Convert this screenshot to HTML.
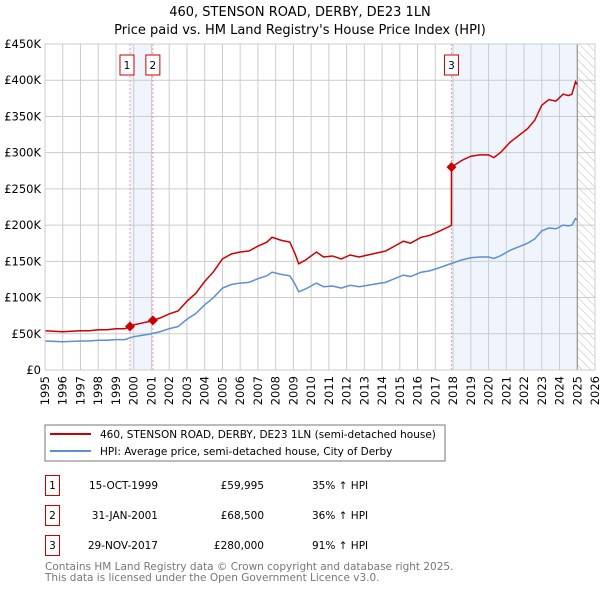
<!DOCTYPE html>
<html><head><meta charset="utf-8"><style>
body{margin:0;background:#fff;font-family:"DejaVu Sans","Liberation Sans",sans-serif;}
svg text{font-family:"DejaVu Sans","Liberation Sans",sans-serif;}
</style></head><body>
<svg id="chart" width="600" height="590" viewBox="0 0 600 590" xmlns="http://www.w3.org/2000/svg">
<defs><pattern id="hatch" width="6" height="6" patternUnits="userSpaceOnUse" patternTransform="rotate(-45)"><line x1="0" y1="0" x2="0" y2="6" stroke="#bbb" stroke-width="1"/></pattern></defs>
<text x="300" y="16" text-anchor="middle" font-size="13">460, STENSON ROAD, DERBY, DE23 1LN</text>
<text x="300" y="34" text-anchor="middle" font-size="13">Price paid vs. HM Land Registry's House Price Index (HPI)</text>
<g id="plot"></g>
<g>
<rect x="45" y="425" width="400" height="36" fill="#fff" stroke="#777"/>
<line x1="50" y1="434" x2="91" y2="434" stroke="#cc0000" stroke-width="2"/>
<text x="100" y="438" font-size="10.5">460, STENSON ROAD, DERBY, DE23 1LN (semi-detached house)</text>
<line x1="50" y1="451" x2="91" y2="451" stroke="#5b8fd4" stroke-width="2"/>
<text x="100" y="455" font-size="10.5">HPI: Average price, semi-detached house, City of Derby</text>
</g>
<g font-size="10.5">
<rect x="45.5" y="475.5" width="14" height="20" fill="#fff" stroke="#cc0000"/><text x="52.5" y="489" text-anchor="middle">1</text>
<text x="158" y="489" text-anchor="end">15-OCT-1999</text><text x="264" y="489" text-anchor="end">£59,995</text><text x="312" y="489">35% ↑ HPI</text>
<rect x="45.5" y="505.5" width="14" height="20" fill="#fff" stroke="#cc0000"/><text x="52.5" y="519" text-anchor="middle">2</text>
<text x="158" y="519" text-anchor="end">31-JAN-2001</text><text x="264" y="519" text-anchor="end">£68,500</text><text x="312" y="519">36% ↑ HPI</text>
<rect x="45.5" y="535.5" width="14" height="20" fill="#fff" stroke="#cc0000"/><text x="52.5" y="549" text-anchor="middle">3</text>
<text x="158" y="549" text-anchor="end">29-NOV-2017</text><text x="264" y="549" text-anchor="end">£280,000</text><text x="312" y="549">91% ↑ HPI</text>
</g>
<text x="45" y="570" font-size="10.5" fill="#777">Contains HM Land Registry data © Crown copyright and database right 2025.</text>
<text x="45" y="581" font-size="10.5" fill="#777">This data is licensed under the Open Government Licence v3.0.</text>
</svg>
<script>
const yTicks=[0,50,100,150,200,250,300,350,400,450];
const yTickLabels=["£0","£50K","£100K","£150K","£200K","£250K","£300K","£350K","£400K","£450K"];
const xYears=[1995,1996,1997,1998,1999,2000,2001,2002,2003,2004,2005,2006,2007,2008,2009,2010,2011,2012,2013,2014,2015,2016,2017,2018,2019,2020,2021,2022,2023,2024,2025,2026];
const hpiT=[1995,1995.5,1996,1996.5,1997,1997.5,1998,1998.5,1999,1999.5,2000,2000.5,2001,2001.5,2002,2002.5,2003,2003.5,2004,2004.5,2005,2005.5,2006,2006.5,2007,2007.5,2007.8,2008.3,2008.8,2009.1,2009.3,2009.7,2010.3,2010.7,2011.2,2011.7,2012.2,2012.7,2013.2,2013.7,2014.2,2014.7,2015.2,2015.6,2016.2,2016.7,2017.2,2017.9,2018.5,2019,2019.5,2020,2020.3,2020.7,2021.2,2021.7,2022.2,2022.6,2023,2023.4,2023.8,2024.2,2024.5,2024.7,2024.9,2025];
const hpiV=[40,39.5,39,39.5,40,40,41,41,42,42,46,48,50,53,57,60,70,78,90,100,113,118,120,121,126,130,135,132,130,118,108,112,120,115,116,113,117,115,117,119,121,126,131,129,135,137,141,147,152,155,156,156,154,158,165,170,175,181,192,196,195,200,199,200,209,207];
const saleT=[1999.79,2001.08,2017.91];
const saleV=[59.995,68.5,280];
const saleLabels=["1","2","3"];
const dataEnd=2025.0;

const X0=45,X1=595,Y0=370,Y1=44;
const xs=t=>X0+(t-1995)*(X1-X0)/31;
const ys=v=>Y0-v*(Y0-Y1)/450;
const NS="http://www.w3.org/2000/svg";
const g=document.getElementById('plot');
function mk(tag,attrs,parent){const e=document.createElementNS(NS,tag);for(const k in attrs)e.setAttribute(k,attrs[k]);(parent||g).appendChild(e);return e;}
function hpiAt(t){for(let i=1;i<hpiT.length;i++){if(t<=hpiT[i]){const f=(t-hpiT[i-1])/(hpiT[i]-hpiT[i-1]);return hpiV[i-1]+f*(hpiV[i]-hpiV[i-1]);}}return hpiV[hpiV.length-1];}

let sh=mk('rect',{x:xs(saleT[0]),y:Y1,width:xs(saleT[1])-xs(saleT[0]),height:Y0-Y1,fill:'#f0f4fd'});


let sh2=mk('rect',{x:xs(saleT[2]),y:Y1,width:xs(dataEnd)-xs(saleT[2]),height:Y0-Y1,fill:'#f0f4fd'});


let hz=mk('rect',{x:xs(dataEnd),y:Y1,width:X1-xs(dataEnd),height:Y0-Y1,fill:'url(#hatch)'});


yTicks.forEach((v,i)=>{
 mk('line',{x1:X0,x2:X1,y1:ys(v),y2:ys(v),stroke:'#ccc','stroke-width':1});
 const t=mk('text',{x:X0-4,y:ys(v)+4,'text-anchor':'end','font-size':11.5});t.textContent=yTickLabels[i];
 
 
});
xYears.forEach(yr=>{
 mk('line',{x1:xs(yr),x2:xs(yr),y1:Y1,y2:Y0,stroke:'#ccc','stroke-width':1});
 const t=mk('text',{x:0,y:0,'text-anchor':'end','font-size':11.5,transform:`translate(${xs(yr)+4},${Y0+6}) rotate(-90)`});t.textContent=yr;
 
 
});
mk('line',{x1:xs(dataEnd),x2:xs(dataEnd),y1:Y1,y2:Y0,stroke:'#888','stroke-width':1});
saleT.forEach((t,i)=>{
 mk('line',{x1:xs(t),x2:xs(t),y1:Y1,y2:Y0,stroke:'#e88','stroke-width':0.8,'stroke-dasharray':'2,2'});
 const bx=mk('rect',{x:xs(t)-7,y:55,width:14,height:20,fill:'#fff',stroke:'#cc0000'});
 if(i==0)bx.setAttribute('x',xs(t)-10);
 
 
 const tx=mk('text',{x:+bx.getAttribute('x')+7,y:69,'text-anchor':'middle','font-size':10.5});tx.textContent=saleLabels[i];
});
let pts=[];for(let i=0;i<hpiT.length;i++)pts.push(xs(hpiT[i])+','+ys(hpiV[i]));
const hl=mk('polyline',{points:pts.join(' '),fill:'none',stroke:'#5b8fd4','stroke-width':1.5});


let rp=[];
const steps=[...hpiT];saleT.forEach(t=>{steps.push(t-0.001);steps.push(t);});steps.sort((a,b)=>a-b);
steps.forEach(t=>{
 let k=0;for(let i=0;i<saleT.length;i++)if(t>=saleT[i])k=i;
 const v=hpiAt(t)*saleV[k]/hpiAt(saleT[k]);
 rp.push(xs(t)+','+ys(v));
});
const pl=mk('polyline',{points:rp.join(' '),fill:'none',stroke:'#cc0000','stroke-width':1.5});


saleT.forEach((t,i)=>{
 const x=xs(t),y=ys(saleV[i]);
 const d=mk('polygon',{points:`${x},${y-5} ${x+5},${y} ${x},${y+5} ${x-5},${y}`,fill:'#cc0000'});
 
 
});
mk('rect',{x:X0,y:Y1,width:X1-X0,height:Y0-Y1,fill:'none',stroke:'#ccc'});
</script>
</body></html>
